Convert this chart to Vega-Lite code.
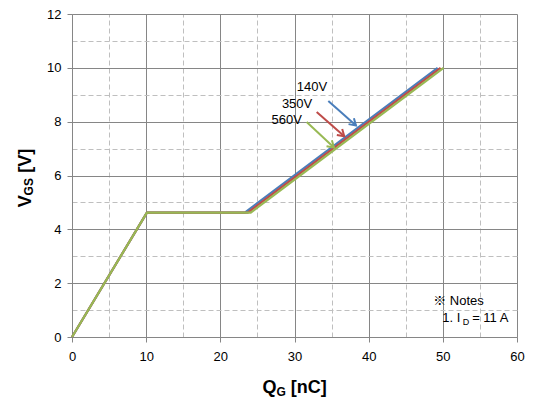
{
  "$schema": "https://vega.github.io/schema/vega-lite/v6.json",
  "width": 445,
  "height": 323,
  "autosize": {"type": "none"},
  "padding": {"left": 72, "top": 14, "right": 18, "bottom": 64},
  "background": "white",
  "config": {"view": {"stroke": null}, "font": "Liberation Sans"},
  "resolve": {"axis": {"x": "independent", "y": "independent"}},
  "datasets": {
    "curves": [
      {"series": "140V", "q": 0, "v": 0},
      {"series": "140V", "q": 10.1, "v": 4.62},
      {"series": "140V", "q": 23.3, "v": 4.62},
      {"series": "140V", "q": 49.3, "v": 10},
      {"series": "350V", "q": 0, "v": 0},
      {"series": "350V", "q": 10.1, "v": 4.62},
      {"series": "350V", "q": 23.7, "v": 4.62},
      {"series": "350V", "q": 49.7, "v": 10},
      {"series": "560V", "q": 0, "v": 0},
      {"series": "560V", "q": 10.1, "v": 4.62},
      {"series": "560V", "q": 24.1, "v": 4.62},
      {"series": "560V", "q": 50.1, "v": 10}
    ],
    "arrows": [
      {"series": "140V", "x1": 34.56, "y1": 8.77, "x2": 38.29, "y2": 7.86, "lx": 30.3, "ly": 9.14},
      {"series": "350V", "x1": 32.99, "y1": 8.36, "x2": 36.71, "y2": 7.46, "lx": 28.3, "ly": 8.52},
      {"series": "560V", "x1": 31.64, "y1": 7.99, "x2": 35.32, "y2": 7.04, "lx": 26.9, "ly": 7.90}
    ],
    "notes": [
      {"t": "※ Notes", "x": 48.7, "y": 1.18, "role": "main"},
      {"t": "1. I", "x": 49.93, "y": 0.56, "role": "main"},
      {"t": "D", "x": 52.7, "y": 0.46, "role": "sub"},
      {"t": "= 11 A", "x": 53.95, "y": 0.56, "role": "main"}
    ],
    "ytitle": [
      {"t": "V", "x": -5.53, "y": 4.82, "role": "main"},
      {"t": "GS", "x": -5.25, "y": 5.26, "role": "sub"},
      {"t": "[V]", "x": -5.53, "y": 6.10, "role": "main"}
    ],
    "xtitle": [
      {"t": "Q", "x": 25.68, "y": -2.09, "role": "main"},
      {"t": "G", "x": 27.57, "y": -2.2, "role": "sub"},
      {"t": "[nC]", "x": 29.5, "y": -2.09, "role": "main"}
    ]
  },
  "layer": [
    {
      "data": {"name": "curves"},
      "transform": [{"filter": "datum.series === '140V'"}],
      "mark": {"type": "line", "strokeWidth": 2.2},
      "encoding": {
        "x": {
          "field": "q", "type": "quantitative",
          "scale": {"domain": [0, 60], "nice": false, "zero": false},
          "axis": {
            "orient": "bottom",
            "values": [0, 10, 20, 30, 40, 50, 60],
            "title": null,
            "grid": true,
            "gridColor": "#868686",
            "tickColor": "#868686",
            "tickSize": 5,
            "domainColor": "#868686",
            "labelFont": "Liberation Sans",
            "labelFontSize": 13,
            "labelColor": "#000000",
            "labelPadding": 8,
            "labelFlush": false,
            "labelOverlap": false
          }
        },
        "y": {
          "field": "v", "type": "quantitative",
          "scale": {"domain": [0, 12], "nice": false, "zero": false},
          "axis": {
            "orient": "left",
            "values": [0, 2, 4, 6, 8, 10, 12],
            "title": null,
            "grid": true,
            "gridColor": "#868686",
            "tickColor": "#868686",
            "tickSize": 5,
            "domainColor": "#868686",
            "labelFont": "Liberation Sans",
            "labelFontSize": 13,
            "labelColor": "#000000",
            "labelPadding": 6,
            "labelOverlap": false
          }
        },
        "color": {"field": "series", "type": "nominal", "scale": {"domain": ["140V", "350V", "560V"], "range": ["#4A7EBB", "#BE4B48", "#98B954"]}, "legend": null}
      }
    },
    {
      "data": {"name": "curves"},
      "transform": [{"filter": "datum.series === '350V'"}],
      "mark": {"type": "line", "strokeWidth": 2.2},
      "encoding": {
        "x": {
          "field": "q", "type": "quantitative",
          "axis": {
            "orient": "top",
            "values": [5, 15, 25, 35, 45, 55],
            "title": null,
            "grid": true,
            "gridColor": "#BFBFBF",
            "gridDash": [5, 3],
            "ticks": false,
            "labels": false,
            "domain": false
          }
        },
        "y": {
          "field": "v", "type": "quantitative",
          "axis": {
            "orient": "right",
            "values": [1, 3, 5, 7, 9, 11],
            "title": null,
            "grid": true,
            "gridColor": "#BFBFBF",
            "gridDash": [5, 3],
            "ticks": false,
            "labels": false,
            "domain": false
          }
        },
        "color": {"field": "series", "type": "nominal", "legend": null}
      }
    },
    {
      "data": {"name": "curves"},
      "transform": [{"filter": "datum.series === '560V'"}],
      "mark": {"type": "line", "strokeWidth": 2.2},
      "encoding": {
        "x": {"field": "q", "type": "quantitative", "axis": null},
        "y": {"field": "v", "type": "quantitative", "axis": null},
        "color": {"field": "series", "type": "nominal", "legend": null}
      }
    },
    {
      "data": {"name": "arrows"},
      "mark": {"type": "rule", "strokeWidth": 2},
      "encoding": {
        "x": {"field": "x1", "type": "quantitative", "axis": null},
        "y": {"field": "y1", "type": "quantitative", "axis": null},
        "x2": {"field": "x2"},
        "y2": {"field": "y2"},
        "color": {"field": "series", "type": "nominal", "legend": null}
      }
    },
    {
      "data": {"name": "arrows"},
      "mark": {"type": "point", "shape": "M -1.6 -1 L 0 0 L -1.6 1", "filled": false, "strokeWidth": 2, "angle": 42, "size": 64, "opacity": 1, "strokeJoin": "miter"},
      "encoding": {
        "x": {"field": "x2", "type": "quantitative", "axis": null},
        "y": {"field": "y2", "type": "quantitative", "axis": null},
        "color": {"field": "series", "type": "nominal", "legend": null}
      }
    },
    {
      "data": {"name": "arrows"},
      "mark": {"type": "text", "align": "left", "baseline": "alphabetic", "fontSize": 13, "font": "Liberation Sans", "color": "#000000"},
      "encoding": {
        "x": {"field": "lx", "type": "quantitative", "axis": null},
        "y": {"field": "ly", "type": "quantitative", "axis": null},
        "text": {"field": "series"}
      }
    },
    {
      "data": {"name": "notes"},
      "transform": [{"filter": "datum.role === 'main'"}],
      "mark": {"type": "text", "align": "left", "baseline": "alphabetic", "fontSize": 13, "font": "Liberation Sans, Noto Sans CJK JP", "color": "#000000"},
      "encoding": {
        "x": {"field": "x", "type": "quantitative", "axis": null},
        "y": {"field": "y", "type": "quantitative", "axis": null},
        "text": {"field": "t"}
      }
    },
    {
      "data": {"name": "notes"},
      "transform": [{"filter": "datum.role === 'sub'"}],
      "mark": {"type": "text", "align": "left", "baseline": "alphabetic", "fontSize": 9, "font": "Liberation Sans", "color": "#000000"},
      "encoding": {
        "x": {"field": "x", "type": "quantitative", "axis": null},
        "y": {"field": "y", "type": "quantitative", "axis": null},
        "text": {"field": "t"}
      }
    },
    {
      "data": {"name": "ytitle"},
      "transform": [{"filter": "datum.role === 'main'"}],
      "mark": {"type": "text", "align": "left", "baseline": "alphabetic", "font": "Liberation Sans", "fontWeight": "bold", "fontSize": 18, "angle": 270, "color": "#000000"},
      "encoding": {
        "x": {"field": "x", "type": "quantitative", "axis": null},
        "y": {"field": "y", "type": "quantitative", "axis": null},
        "text": {"field": "t"}
      }
    },
    {
      "data": {"name": "ytitle"},
      "transform": [{"filter": "datum.role === 'sub'"}],
      "mark": {"type": "text", "align": "left", "baseline": "alphabetic", "font": "Liberation Sans", "fontWeight": "bold", "fontSize": 12, "angle": 270, "color": "#000000"},
      "encoding": {
        "x": {"field": "x", "type": "quantitative", "axis": null},
        "y": {"field": "y", "type": "quantitative", "axis": null},
        "text": {"field": "t"}
      }
    },
    {
      "data": {"name": "xtitle"},
      "transform": [{"filter": "datum.role === 'main'"}],
      "mark": {"type": "text", "align": "left", "baseline": "alphabetic", "font": "Liberation Sans", "fontWeight": "bold", "fontSize": 18, "color": "#000000"},
      "encoding": {
        "x": {"field": "x", "type": "quantitative", "axis": null},
        "y": {"field": "y", "type": "quantitative", "axis": null},
        "text": {"field": "t"}
      }
    },
    {
      "data": {"name": "xtitle"},
      "transform": [{"filter": "datum.role === 'sub'"}],
      "mark": {"type": "text", "align": "left", "baseline": "alphabetic", "font": "Liberation Sans", "fontWeight": "bold", "fontSize": 12, "color": "#000000"},
      "encoding": {
        "x": {"field": "x", "type": "quantitative", "axis": null},
        "y": {"field": "y", "type": "quantitative", "axis": null},
        "text": {"field": "t"}
      }
    }
  ]
}
